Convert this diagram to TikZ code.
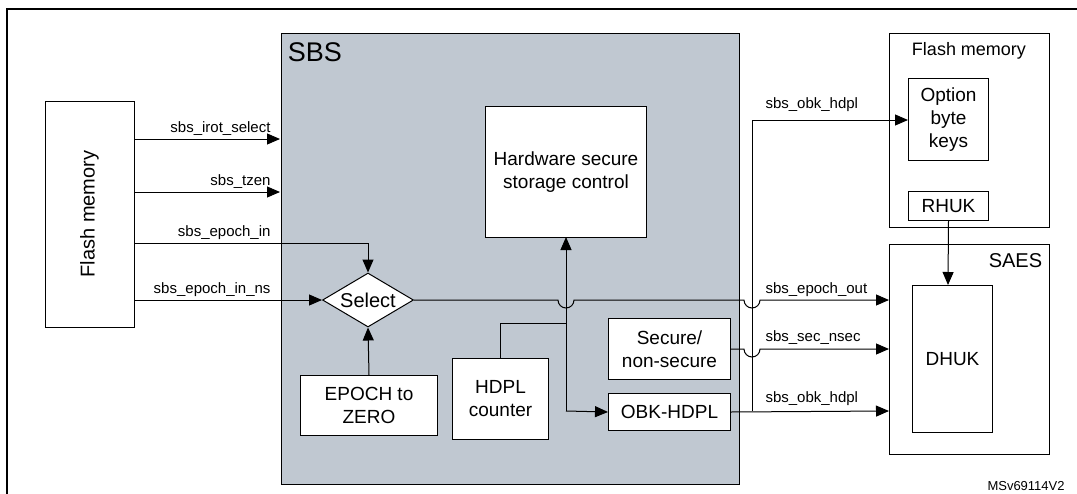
\documentclass[tikz,border=0pt]{standalone}
\usepackage{fontspec}
\setmainfont{Liberation Sans}
\usetikzlibrary{arrows.meta,shapes.geometric}
\definecolor{sbsgray}{RGB}{192,200,209}
\begin{document}
\begin{tikzpicture}[x=1pt,y=-1pt,
  box/.style={draw,fill=white,align=center,font=\fontsize{19}{23}\selectfont,inner sep=0pt},
  lbl/.style={font=\fontsize{15}{18}\selectfont,inner sep=1pt},
  arr/.style={-{Triangle[length=13pt,width=11pt]}},
  line width=1pt]
\useasboundingbox (0,0) rectangle (1077,493);
\draw[line width=1.4pt] (7,9) rectangle (1090,510);
\node[box,fill=sbsgray,minimum width=458pt,minimum height=451pt,anchor=north west] (sbs) at (281,33) {};
\node[anchor=west,font=\fontsize{27}{32}\selectfont] (sbst) at (284,52) {SBS};
\node[box,minimum width=89pt,minimum height=226pt,anchor=north west] (fl) at (45,101) {};
\node[rotate=90,font=\fontsize{20}{24}\selectfont] (flt) at (89.5,214) {Flash memory};
\node[draw,diamond,fill=white,aspect=1.7,minimum width=91pt,minimum height=54pt,inner sep=0pt,font=\fontsize{20}{24}\selectfont] (sel) at (368,300) {Select};
\node[box,minimum width=137pt,minimum height=60pt,anchor=north west] (ep) at (300,375) {EPOCH to\\ZERO};
\node[box,minimum width=161pt,minimum height=131pt,anchor=north west] (hw) at (485,106) {Hardware secure\\storage control};
\node[box,minimum width=96pt,minimum height=81pt,anchor=north west] (hd) at (452,358) {HDPL\\counter};
\node[box,minimum width=122pt,minimum height=61pt,anchor=north west] (sec) at (608,318) {Secure/\\non-secure};
\node[box,minimum width=122pt,minimum height=37pt,anchor=north west] (obk) at (608,393) {OBK-HDPL};
\node[box,minimum width=160pt,minimum height=194pt,anchor=north west] (fr) at (889,33) {};
\node[anchor=north,font=\fontsize{18}{22}\selectfont] (frt) at (969,39) {Flash memory};
\node[box,minimum width=80pt,minimum height=82pt,anchor=north west] (opt) at (908,78) {Option\\byte\\keys};
\node[box,minimum width=80pt,minimum height=29pt,anchor=north west] (rh) at (908,191) {RHUK};
\node[box,minimum width=160pt,minimum height=210pt,anchor=north west] (sa) at (889,244) {};
\node[anchor=north east,font=\fontsize{20}{24}\selectfont] (sat) at (1046,250) {SAES};
\node[box,minimum width=80pt,minimum height=147pt,anchor=north west] (dh) at (912,285) {DHUK};
% left inputs
\draw[arr] (134,139) -- (280,139);
\node[lbl,anchor=south east] (l1) at (272,137) {sbs\_irot\_select};
\draw[arr] (134,192) -- (280,192);
\node[lbl,anchor=south east] (l2) at (272,190) {sbs\_tzen};
\draw[arr] (134,243) -- (368,243) -- (sel.north);
\node[lbl,anchor=south east] (l3) at (272,241) {sbs\_epoch\_in};
\draw[arr] (134,300) -- (sel.west);
\node[lbl,anchor=south east] (l4) at (272,298) {sbs\_epoch\_in\_ns};
\draw[arr] (ep.north) -- (sel.south);
% HDPL
\draw (500,358) -- (500,323) -- (566,323);
\draw[arr] (566,411) -- (566,237);
\draw[arr] (566,411) -- (obk.west);
% outputs with jumps
\draw[arr] (sel.east) -- (558,300) arc[start angle=180,end angle=0,radius=8] -- (744,300) arc[start angle=180,end angle=0,radius=8] -- (889,300);
\node[lbl,anchor=south west] (l5) at (764,298) {sbs\_epoch\_out};
\draw[arr] (sec.east) -- (744,349) arc[start angle=180,end angle=0,radius=8] -- (889,349);
\node[lbl,anchor=south west] (l6) at (764,346) {sbs\_sec\_nsec};
\draw[arr] (obk.east) -- (889,411);
\node[lbl,anchor=south west] (l7) at (764,407) {sbs\_obk\_hdpl};
\draw[arr] (752,411) -- (752,120) -- (908,120);
\node[lbl,anchor=south west] (l8) at (764,113) {sbs\_obk\_hdpl};
\draw[arr] (rh.south) -- (948,285);
\node[anchor=south west,font=\fontsize{13}{15}\selectfont,inner sep=1pt] (ms) at (986,492) {MSv69114V2};
\end{tikzpicture}
\end{document}
